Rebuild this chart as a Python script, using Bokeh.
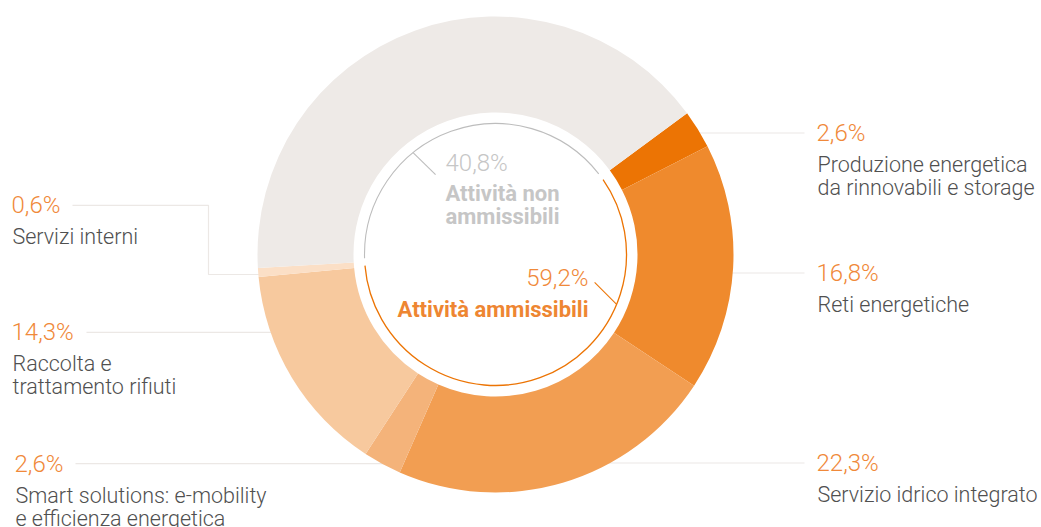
import math
from bokeh.plotting import figure
from bokeh.models import ColumnDataSource, Range1d
from bokeh.core.properties import value
from bokeh.embed import file_html
from bokeh.resources import INLINE

# ---------------- data ----------------
categories = [
    "Produzione energetica\nda rinnovabili e storage",
    "Reti energetiche",
    "Servizio idrico integrato",
    "Smart solutions: e-mobility\ne efficienza energetica",
    "Raccolta e\ntrattamento rifiuti",
    "Servizi interni",
    "Attività non ammissibili",
]
values = [2.6, 16.8, 22.3, 2.6, 14.3, 0.6, 40.8]
colors = ["#EC7404", "#EF8A2D", "#F29E52", "#F4B37A", "#F7C99E", "#FBDFC6", "#EEEAE7"]
group_labels = ["Attività\u00a0ammissibili", "Attività non\nammissibili"]
group_values = [59.2, 40.8]

def fmt(v):
    return f"{v:.1f}".replace(".", ",") + "%"

# ---------------- layout ----------------
W, H = 1041, 527
def Y(yref):
    return H - yref

TDY = 7.5  # baseline correction for text
def YT(yref):
    return H - (yref - TDY)

p = figure(width=W, height=H, x_range=Range1d(0, W), y_range=Range1d(0, H),
           output_backend="svg", toolbar_location=None, min_border=0)
p.axis.visible = False
p.grid.visible = False
p.outline_line_color = None
p.background_fill_color = "white"
p.border_fill_color = "white"

CX, CY = 495, Y(254)
R_OUT, R_IN, R_RING = 238, 142, 131
THETA0 = 36.4  # degrees, slices run clockwise from here

LIGHT = value("Roboto Light")
BOLD = value("Roboto")
PCT_COLOR = "#F0893A"
TXT_COLOR = "#505050"
LINE_COLOR = "#ECE8E5"
PCT_SIZE = "24px"
LBL_SIZE = "21.5px"
rad = math.radians

# --- wedges ---
ends, starts = [], []
cum = 0.0
for v in values:
    a_hi = THETA0 - cum / 100 * 360
    cum += v
    a_lo = THETA0 - cum / 100 * 360
    starts.append(rad(a_lo))
    ends.append(rad(a_hi))

# --- outside label layout (index -> side, pct baseline in page px, text x) ---
layout = {
    0: ("right", 140.0, 816),
    1: ("right", 280.0, 816),
    2: ("right", 470.0, 816),
    3: ("left", 470.7, 14),
    4: ("left", 339.3, 11),
    5: ("left", 212.3, 11),
}
left_line_start = {3: 75, 4: 86, 5: 72}

# leader lines (drawn under wedges)
xs_l, ys_l = [], []
for i, (side, base, _) in layout.items():
    ly = base - 7.5
    dy = abs(Y(ly) - CY)
    dx = math.sqrt(max(R_OUT ** 2 - dy ** 2, 0))
    if side == "right":
        xs_l.append([CX + dx - 6, 804])
        ys_l.append([Y(ly), Y(ly)])
    elif i == 5:
        ely = 274
        edx = math.sqrt(R_OUT ** 2 - (Y(ely) - CY) ** 2)
        xs_l.append([left_line_start[i], 208, 208, CX - edx + 6])
        ys_l.append([Y(ly), Y(ly), Y(ely), Y(ely)])
    else:
        xs_l.append([left_line_start[i], CX - dx + 6])
        ys_l.append([Y(ly), Y(ly)])
p.multi_line(xs=xs_l, ys=ys_l, line_color=LINE_COLOR, line_width=1.2)

src = ColumnDataSource(dict(start=starts, end=ends, color=colors, cat=categories, val=values))
p.annular_wedge(x=CX, y=CY, inner_radius=R_IN, outer_radius=R_OUT,
                start_angle="start", end_angle="end",
                fill_color="color", line_color=None, source=src)

# --- inner thin ring ---
elig_deg = group_values[0] / 100 * 360
gap = 1.6
p.arc(x=CX, y=CY, radius=R_RING, start_angle=rad(THETA0 + gap),
      end_angle=rad(THETA0 + (360 - elig_deg) - gap), line_color="#BDBDBD", line_width=1.1)
p.arc(x=CX, y=CY, radius=R_RING, start_angle=rad(THETA0 - elig_deg + gap),
      end_angle=rad(THETA0 - gap), line_color="#EC7404", line_width=1.3)

# inner leaders
ag = rad(129)
gx, gy = CX + R_RING * math.cos(ag), CY + R_RING * math.sin(ag)
ao = rad(-22.4)
ox, oy = CX + R_RING * math.cos(ao), CY + R_RING * math.sin(ao)
p.segment(x0=[gx], y0=[gy], x1=[gx + 22.5], y1=[gy - 22], line_color="#BDBDBD", line_width=1.1)
p.segment(x0=[ox], y0=[oy], x1=[ox - 22], y1=[oy + 22], line_color="#EC7404", line_width=1.1)

# --- centre texts ---
p.text(x=[445], y=[YT(169.5)], text=[fmt(group_values[1])], text_font=LIGHT, text_font_size=PCT_SIZE,
       text_color="#C6C6C6", text_baseline="alphabetic", text_align="left")
non_lines = group_labels[1].split("\n")
p.text(x=[445] * len(non_lines), y=[YT(200.5 + 23 * k) for k in range(len(non_lines))], text=non_lines,
       text_font=BOLD, text_font_style="bold", text_font_size="22px", text_color="#C6C6C6",
       text_baseline="alphabetic", text_align="left")
p.text(x=[588], y=[YT(285)], text=[fmt(group_values[0])], text_font=LIGHT, text_font_size=PCT_SIZE,
       text_color="#F0893A", text_baseline="alphabetic", text_align="right")
p.text(x=[588], y=[YT(316.5)], text=[group_labels[0]], text_font=BOLD, text_font_style="bold",
       text_font_size="22px", text_color="#EE8632", text_baseline="alphabetic", text_align="right")

# --- outside texts ---
px, py, pt = [], [], []
nx, ny, nt = [], [], []
for i, (side, base, tx) in layout.items():
    px.append(tx); py.append(YT(base)); pt.append(fmt(values[i]))
    for k, line in enumerate(categories[i].split("\n")):
        nx.append(817 if side == "right" else tx + 1)
        ny.append(YT(base + 31.6 + 22.7 * k)); nt.append(line)
p.text(x=px, y=py, text=pt, text_font=LIGHT, text_font_size=PCT_SIZE, text_color=PCT_COLOR,
       text_baseline="alphabetic", text_align="left")
p.text(x=nx, y=ny, text=nt, text_font=LIGHT, text_font_size=LBL_SIZE, text_color=TXT_COLOR,
       text_baseline="alphabetic", text_align="left")

open("out.html", "w").write(file_html(p, INLINE))
